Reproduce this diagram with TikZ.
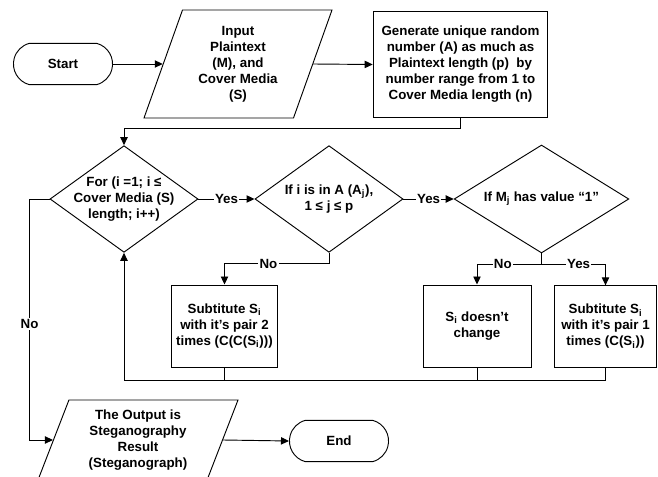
\documentclass[tikz,border=0pt]{standalone}
\usepackage{fontspec}
\setmainfont{Liberation Sans}
\usetikzlibrary{shapes,arrows.meta,positioning,calc}

\begin{document}
\begin{tikzpicture}[x=0.75pt, y=-0.75pt, line width=0.7pt,
        font=\bfseries\fontsize{10}{12}\selectfont,
        >={Triangle[length=6pt,width=5.5pt]},
        terminal/.style={draw, rounded rectangle, rounded rectangle arc length=150, minimum width=81pt, minimum height=31pt},
        io/.style={draw, trapezium, trapezium left angle=63.9, trapezium right angle=116.1, trapezium stretches body, align=center, inner sep=1pt},
        process/.style={draw, rectangle, align=center, inner sep=1pt},
        decision/.style={draw, diamond, inner sep=0pt},
        answer/.style={fill=white, inner sep=1pt}]
        \useasboundingbox (0,0) rectangle (658,477);

        % Top row
        \node [terminal] (start) at (63,64) {Start};
        \node [io, minimum width=141pt, minimum height=81pt] (input) at (238,64) {Input\\Plaintext\\(M), and\\Cover Media\\(S)};
        \node [process, minimum width=131pt, minimum height=80pt] (gen) at (460.5,64.5) {Generate unique random\\number (A) as much as\\Plaintext length (p)\ \ by\\number range from 1 to\\Cover Media length (n)};

        \draw[->] (start.east) -- (input.left side);
        \draw[->] (input.right side) -- (gen.west);

        % Decisions
        \node [decision, minimum width=111pt, minimum height=80pt, label={[align=center]center:For (i =1; i ≤\\Cover Media (S)\\length; i++)}] (loop) at (124,199) {};
        \node [decision, minimum width=111pt, minimum height=80pt, label={[align=center]center:If i is in A (A\textsubscript{j}),\\1 ≤ j ≤ p}] (inA) at (329,199) {};
        \node [decision, minimum width=131pt, minimum height=81pt, label={[align=center]center:If M\textsubscript{j} has value “1”}] (hasone) at (541.5,199) {};

        \draw[->] (gen.south) -- ++(0,10) -| (loop.north);
        \draw[->] (loop.east) -- node[answer] {Yes} (inA.west);
        \draw[->] (inA.east) -- node[answer] {Yes} (hasone.west);

        % Substitution
        \node [process, minimum width=80pt, minimum height=61.5pt] (sub2) at (224.5,326) {Subtitute S\textsubscript{i}\\with it’s pair 2\\times (C(C(S\textsubscript{i})))};
        \node [process, minimum width=81pt, minimum height=61.5pt] (same) at (477,326) {S\textsubscript{i} doesn’t\\change};
        \node [process, minimum width=77pt, minimum height=61pt] (sub1) at (605.5,326.5) {Subtitute S\textsubscript{i}\\with it’s pair 1\\times (C(S\textsubscript{i}))};

        \draw[->] (inA.south) -- ++(0,11) -| node[answer, pos=0.29] {No} (sub2.north);
        \draw[->] (hasone.south) -- ++(0,11) -| node[answer, pos=0.3] {No} (same.north);
        \draw[->] (hasone.south) -- ++(0,11) -| node[answer, pos=0.29] {Yes} (sub1.north);

        % Back to loop
        \coordinate (join) at (124,380);
        \draw (sub2.south) -- (sub2.south |- join);
        \draw (same.south) -- (same.south |- join);
        \draw[->] (sub1.south) |- (join) -- (loop.south);

        % Output
        \node [io, minimum width=150pt, minimum height=60pt] (output) at (138,440) {The Output is\\Steganography\\Result\\(Steganograph)};
        \node [terminal] (stop) at (339,441) {End};

        \draw[->] (loop.west) -- ++(-20,0) |- node[answer, pos=0.26] {No} (output.left side);
        \draw[->] (output.right side) -- (stop.west);
\end{tikzpicture}
\end{document}
